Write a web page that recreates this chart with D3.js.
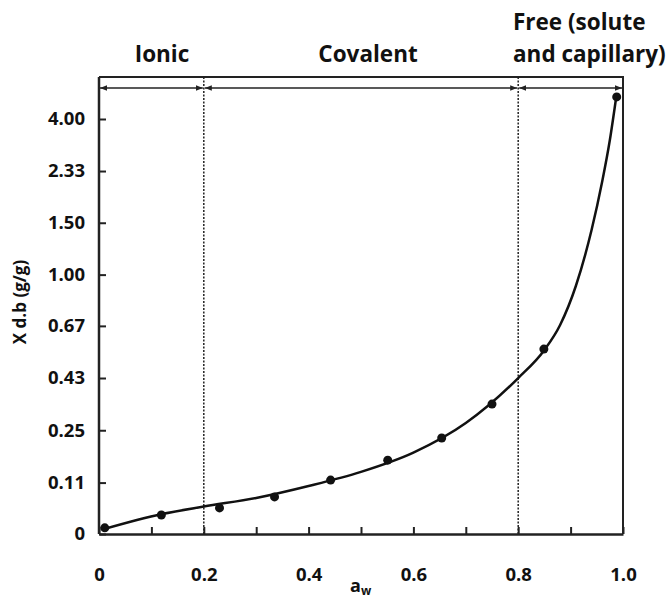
<!DOCTYPE html>
<html>
<head>
<meta charset="utf-8">
<script src="https://cdn.jsdelivr.net/npm/d3@7"></script>
<style>
	body { margin: 0; background: #fff; }
	text { font-family: "Open Sans", sans-serif; font-weight: bold; fill: #111; }
</style>
</head>
<body>
<div id="chart"></div>
<script>

	// Measured points (water activity, moisture content X d.b g/g)
	var pointAw = [0.011, 0.119, 0.23, 0.335, 0.442, 0.551, 0.654, 0.75, 0.849, 0.988];
	var pointX = [0.012, 0.038, 0.053, 0.077, 0.116, 0.166, 0.227, 0.334, 0.554, 5.35];

	// Fitted isotherm curve
	var curveAw = [0.01, 0.12, 0.2, 0.3, 0.4, 0.5, 0.6, 0.7, 0.8, 0.85, 0.88, 0.91, 0.94, 0.96, 0.975, 0.987];
	var curveX = [0.0097, 0.040, 0.056, 0.0747, 0.102, 0.136, 0.186, 0.272, 0.43, 0.55, 0.675, 0.916, 1.415, 2.106, 3.167, 5.33];

	var xTicks = [0, 0.1, 0.2, 0.3, 0.4, 0.5, 0.6, 0.7, 0.8, 0.9, 1.0];
	var xTickLabels = ["0", "", "0.2", "", "0.4", "", "0.6", "", "0.8", "", "1.0"];
	var yTickLabels = ["0", "0.11", "0.25", "0.43", "0.67", "1.00", "1.50", "2.33", "4.00"];

	// Zones of water binding
	var zoneBounds = [0, 0.2, 0.8, 1.0];
	var zoneNames = [["Ionic"], ["Covalent"], ["Free (solute", "and capillary)"]];

	var width = 671,
		height = 601,
		plotLeft = 99,
		plotRight = 623,
		plotTop = 77,
		plotBottom = 534;

	var svg = d3.select("#chart").append("svg")
		.attr("width", width)
		.attr("height", height);

	var x = d3.scaleLinear().domain([0, 1]).range([plotLeft, plotRight]);

	// y axis is linear in X/(1+X)
	function toU(v) { return v / (1 + v); }
	var yu = d3.scaleLinear().domain([0, 0.8]).range([plotBottom, 119]);
	function y(v) { return yu(toU(v)); }

	/*
	 * Frame
	 */
	svg.append("path")
		.attr("d", "M" + x(0) + "," + plotTop + "H" + x(1) + "V" + plotBottom)
		.attr("fill", "none")
		.attr("stroke", "#222")
		.attr("stroke-width", 2);

	// Dotted zone dividers
	svg.selectAll(".divider")
		.data(zoneBounds.slice(1, 3))
		.enter().append("line")
			.attr("class", "divider")
			.attr("x1", function(d) { return x(d); })
			.attr("x2", function(d) { return x(d); })
			.attr("y1", plotTop)
			.attr("y2", plotBottom)
			.attr("stroke", "#222")
			.attr("stroke-width", 1.5)
			.attr("stroke-dasharray", "2,1.5");

	// Arrow markers
	var defs = svg.append("defs");
	defs.append("marker")
		.attr("id", "arr")
		.attr("viewBox", "0 0 10 10")
		.attr("refX", 10)
		.attr("refY", 5)
		.attr("markerWidth", 7)
		.attr("markerHeight", 7)
		.attr("markerUnits", "userSpaceOnUse")
		.attr("orient", "auto-start-reverse")
		.append("path")
			.attr("d", "M0,1L10,5L0,9Z")
			.attr("fill", "#222");

	var arrowY = 88;
	var zones = [];
	for(var i = 0; i < zoneNames.length; i++) {
		zones.push({from: zoneBounds[i], to: zoneBounds[i + 1], name: zoneNames[i]});
	}

	svg.selectAll(".zone")
		.data(zones)
		.enter().append("line")
			.attr("class", "zone")
			.attr("x1", function(d) { return x(d.from) + 1; })
			.attr("x2", function(d) { return x(d.to) - 1; })
			.attr("y1", arrowY)
			.attr("y2", arrowY)
			.attr("stroke", "#222")
			.attr("stroke-width", 1.5)
			.attr("marker-start", "url(#arr)")
			.attr("marker-end", "url(#arr)");

	// Zone labels
	var labelX = [162, 368, 513];
	var labelAnchor = ["middle", "middle", "start"];
	var zoneText = svg.selectAll(".zonelabel")
		.data(zones)
		.enter().append("text")
			.attr("class", "zonelabel")
			.attr("font-size", 22.5)
			.attr("text-anchor", function(d, i) { return labelAnchor[i]; })
			.attr("x", function(d, i) { return labelX[i]; })
			.attr("y", function(d) { return 62 - (d.name.length - 1) * 32; });

	zoneText.selectAll("tspan")
		.data(function(d) { return d.name; })
		.enter().append("tspan")
			.attr("x", function() { return this.parentNode.getAttribute("x"); })
			.attr("dy", function(d, i) { return i === 0 ? 0 : 32; })
			.text(function(d) { return d; });

	/*
	 * Axes
	 */
	var xAxis = d3.axisBottom(x)
		.tickValues(xTicks)
		.tickSizeInner(-7)
		.tickSizeOuter(0)
		.tickPadding(34)
		.tickFormat(function(d, i) { return xTickLabels[i]; });

	var gx = svg.append("g")
		.attr("transform", "translate(0," + plotBottom + ")")
		.call(xAxis);

	var yAxis = d3.axisLeft(yu)
		.tickValues(yTickLabels.map(function(d) { return toU(+d); }))
		.tickSizeInner(-7)
		.tickSizeOuter(0)
		.tickPadding(14)
		.tickFormat(function(d, i) { return yTickLabels[i]; });

	var gy = svg.append("g")
		.attr("transform", "translate(" + plotLeft + ",0)")
		.call(yAxis);

	gy.select(".domain").attr("d", "M0," + plotBottom + "V" + plotTop);

	[gx, gy].forEach(function(g) {
		g.select(".domain").attr("stroke", "#222").attr("stroke-width", 2.5);
		g.selectAll(".tick line").attr("stroke", "#222").attr("stroke-width", 2);
		g.selectAll(".tick text")
			.attr("font-size", 18.5)
			.attr("font-family", "'Open Sans', sans-serif")
			.attr("font-weight", "bold")
			.attr("fill", "#111");
	});

	// Axis titles
	var xTitle = svg.append("text")
		.attr("x", 350)
		.attr("y", 592)
		.attr("font-size", 18);
	xTitle.append("tspan").text("a");
	xTitle.append("tspan")
		.attr("font-size", 12)
		.attr("dy", 3)
		.text("w");

	svg.append("text")
		.attr("transform", "translate(26,302) rotate(-90)")
		.attr("text-anchor", "middle")
		.attr("font-size", 17)
		.text("X d.b (g/g)");

	/*
	 * Curve and points
	 */
	var curveData = curveAw.map(function(d, i) { return [d, curveX[i]]; });
	var line = d3.line()
		.x(function(d) { return x(d[0]); })
		.y(function(d) { return y(d[1]); })
		.curve(d3.curveMonotoneX);

	svg.append("path")
		.datum(curveData)
		.attr("d", line)
		.attr("fill", "none")
		.attr("stroke", "#111")
		.attr("stroke-width", 2.5);

	svg.selectAll(".pt")
		.data(pointAw)
		.enter().append("circle")
			.attr("class", "pt")
			.attr("cx", function(d) { return x(d); })
			.attr("cy", function(d, i) { return y(pointX[i]); })
			.attr("r", 4.5)
			.attr("fill", "#111");

</script>
</body>
</html>
